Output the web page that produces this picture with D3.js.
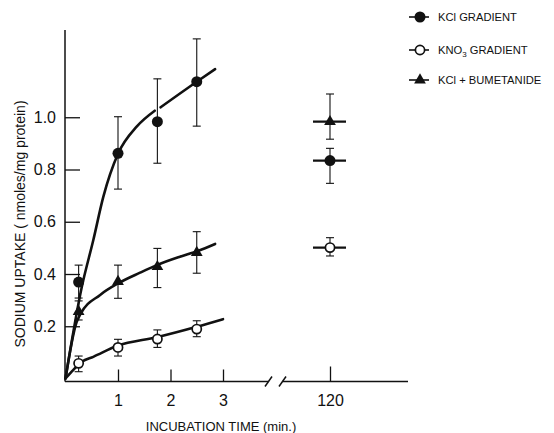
<!DOCTYPE html>
<html>
<head>
  <meta charset="utf-8">
  <title>Sodium uptake vs incubation time</title>
  <script src="https://cdnjs.cloudflare.com/ajax/libs/d3/7.8.5/d3.min.js"></script>
  <style>
    body {
      margin: 0;
      background: #fff;
    }
    svg text {
      font-family: "Liberation Sans", Arial, Helvetica, sans-serif;
      fill: #111;
    }
  </style>
</head>
<body>
  <div id="chart"></div>

  <script>
    // Sampling times (min); the last one sits after the axis break
    const times = [0.25, 1, 1.75, 2.5, 120];

    // KCl gradient (filled circles)
    const kclMean = [0.369, 0.862, 0.983, 1.136, 0.834];
    const kclLo   = [0.308, 0.725, 0.824, 0.966, 0.747];
    const kclHi   = [0.434, 1.002, 1.147, 1.300, 0.881];

    // KNO3 gradient (open circles)
    const kno3Mean = [0.058, 0.119, 0.151, 0.189, 0.501];
    const kno3Lo   = [0.026, 0.086, 0.119, 0.160, 0.469];
    const kno3Hi   = [0.086, 0.150, 0.186, 0.221, 0.539];

    // KCl + bumetanide (filled triangles)
    const bumMean = [0.256, 0.371, 0.428, 0.482, 0.983];
    const bumLo   = [0.224, 0.307, 0.348, 0.403, 0.916];
    const bumHi   = [0.297, 0.434, 0.498, 0.562, 1.089];

    // Hand drawn fit lines as [time, uptake]
    const kclFitA = [[0, 0], [0.31, 0.35], [0.53, 0.53], [0.72, 0.695], [1.0, 0.86], [1.36, 0.965], [1.7, 1.025]];
    const kclFitB = [[1.81, 1.038], [2.5, 1.136], [2.85, 1.184]];
    const bumFit  = [[0, 0], [0.21, 0.215], [0.28, 0.245], [0.66, 0.32], [1.01, 0.365], [1.42, 0.405], [1.74, 0.434], [2.18, 0.466], [2.52, 0.488], [2.85, 0.515]];
    const kno3Fit = [[0, 0], [0.15, 0.033], [0.31, 0.064], [0.53, 0.083], [0.99, 0.125], [1.74, 0.158], [2.5, 0.198], [3.02, 0.227]];

    // Axis ticks
    const yTicks = [0.2, 0.4, 0.6, 0.8, 1.0];
    const xTicks = [1, 2, 3, 120];

    const legendLabels = ["KCl GRADIENT", "KNO3 GRADIENT", "KCl + BUMETANIDE"];

    const width = 554;
    const height = 433;

    const svg = d3.select("#chart")
      .append("svg")
      .attr("width", width)
      .attr("height", height);

    // broken time axis: 0-3 min, then a jump to 120 min
    const x = d3.scaleLinear()
      .domain([0, 3, 120])
      .range([65.5, 223, 330]);

    const y = d3.scaleLinear()
      .domain([0, 1.0])
      .range([378.5, 117.25]);

    const axisY = 381.5;
    const axisX = 65;

    // Y axis
    const yAxis = d3.axisLeft(y)
      .tickValues(yTicks)
      .tickFormat(d3.format(".1f"))
      .tickSizeInner(-15)
      .tickSizeOuter(0)
      .tickPadding(9);

    const gy = svg.append("g")
      .attr("transform", `translate(${axisX},0)`)
      .call(yAxis);
    gy.select(".domain").remove();
    gy.selectAll(".tick line").attr("stroke", "#111").attr("stroke-width", 1.3);
    gy.selectAll(".tick text")
      .style("font-size", "16px")
      .attr("fill", "#111");

    svg.append("line")
      .attr("x1", axisX).attr("x2", axisX)
      .attr("y1", 30).attr("y2", axisY)
      .attr("stroke", "#111")
      .attr("stroke-width", 1.5);

    // X axis
    const xAxis = d3.axisBottom(x)
      .tickValues(xTicks)
      .tickFormat(d3.format("d"))
      .tickSizeInner(-12)
      .tickSizeOuter(0)
      .tickPadding(13);

    const gx = svg.append("g")
      .attr("transform", `translate(0,${axisY})`)
      .call(xAxis);
    gx.select(".domain").remove();
    gx.selectAll(".tick line").attr("stroke", "#111").attr("stroke-width", 1.3);
    gx.selectAll(".tick").filter(d => d === 120).select("line").attr("y2", -15);
    gx.selectAll(".tick text")
      .style("font-size", "16px")
      .attr("fill", "#111");

    // axis line with the break marks
    const axisLine = svg.append("g")
      .attr("stroke", "#111")
      .attr("stroke-width", 1.5)
      .attr("fill", "none");
    axisLine.append("line")
      .attr("x1", axisX).attr("x2", 268)
      .attr("y1", axisY).attr("y2", axisY);
    axisLine.append("line")
      .attr("x1", 283).attr("x2", 408)
      .attr("y1", axisY).attr("y2", axisY);
    [265, 279].forEach(bx => {
      axisLine.append("line")
        .attr("x1", bx).attr("y1", axisY + 5)
        .attr("x2", bx + 7).attr("y2", axisY - 5);
    });

    // Axis titles
    svg.append("text")
      .attr("x", 221)
      .attr("y", 431)
      .attr("text-anchor", "middle")
      .style("font-size", "13px")
      .text("INCUBATION TIME (min.)");

    svg.append("text")
      .attr("transform", "translate(25,224) rotate(-90)")
      .attr("text-anchor", "middle")
      .style("font-size", "14px")
      .text("SODIUM UPTAKE ( nmoles/mg protein)");

    // Fit lines
    const line = d3.line()
      .x(d => x(d[0]))
      .y(d => y(d[1]))
      .curve(d3.curveMonotoneX);

    [kclFitA, kclFitB, bumFit, kno3Fit].forEach(fit => {
      svg.append("path")
        .datum(fit)
        .attr("d", line)
        .attr("fill", "none")
        .attr("stroke", "#111")
        .attr("stroke-width", 2.6)
        .attr("stroke-linecap", "round");
    });

    // Series with error bars and markers
    const series = [
      { mean: kclMean, lo: kclLo, hi: kclHi, shape: "dot" },
      { mean: kno3Mean, lo: kno3Lo, hi: kno3Hi, shape: "ring" },
      { mean: bumMean, lo: bumLo, hi: bumHi, shape: "tri" }
    ];

    function drawMarker(g, shape) {
      if (shape === "dot") {
        g.append("circle").attr("r", 5.5).attr("fill", "#111");
      } else if (shape === "ring") {
        g.append("circle").attr("r", 4.6)
          .attr("fill", "#fff")
          .attr("stroke", "#111")
          .attr("stroke-width", 1.7);
      } else {
        g.append("path")
          .attr("d", d3.symbol(d3.symbolTriangle, 60)())
          .attr("fill", "#111");
      }
    }

    series.forEach(s => {
      const pts = times.map((t, i) => ({ t: t, m: s.mean[i], lo: s.lo[i], hi: s.hi[i] }));
      const g = svg.append("g");

      // error bars
      const eb = g.selectAll(".err")
        .data(pts)
        .enter().append("g")
        .attr("stroke", "#111")
        .attr("stroke-width", 1.1);
      eb.append("line")
        .attr("x1", d => x(d.t)).attr("x2", d => x(d.t))
        .attr("y1", d => y(d.hi)).attr("y2", d => y(d.lo));
      eb.append("line")
        .attr("x1", d => x(d.t) - 4).attr("x2", d => x(d.t) + 4)
        .attr("y1", d => y(d.hi)).attr("y2", d => y(d.hi));
      eb.append("line")
        .attr("x1", d => x(d.t) - 4).attr("x2", d => x(d.t) + 4)
        .attr("y1", d => y(d.lo)).attr("y2", d => y(d.lo));

      // short level bar through the 120 min point
      g.selectAll(".level")
        .data(pts.filter(d => d.t === 120))
        .enter().append("line")
        .attr("x1", d => x(d.t) - 17).attr("x2", d => x(d.t) + 16)
        .attr("y1", d => y(d.m)).attr("y2", d => y(d.m))
        .attr("stroke", "#111")
        .attr("stroke-width", 2.2);

      g.selectAll(".mark")
        .data(pts)
        .enter().append("g")
        .attr("transform", d => `translate(${x(d.t)},${y(d.m)})`)
        .each(function() { drawMarker(d3.select(this), s.shape); });
    });

    // Legend
    const legendY = [17, 50, 80];
    const legend = svg.append("g");
    legendLabels.forEach((label, i) => {
      const row = legend.append("g")
        .attr("transform", `translate(420,${legendY[i]})`);
      row.append("line")
        .attr("x1", -11).attr("x2", 9)
        .attr("stroke", "#111")
        .attr("stroke-width", 1.6);
      drawMarker(row, series[i].shape);
      const txt = row.append("text")
        .attr("x", 18)
        .attr("y", 4)
        .style("font-size", "11.2px");
      if (label.indexOf("KNO3") === 0) {
        txt.append("tspan").text("KNO");
        txt.append("tspan").attr("dy", 3).style("font-size", "8px").text("3");
        txt.append("tspan").attr("dy", -3).text(" GRADIENT");
      } else {
        txt.text(label);
      }
    });
  </script>
</body>
</html>
